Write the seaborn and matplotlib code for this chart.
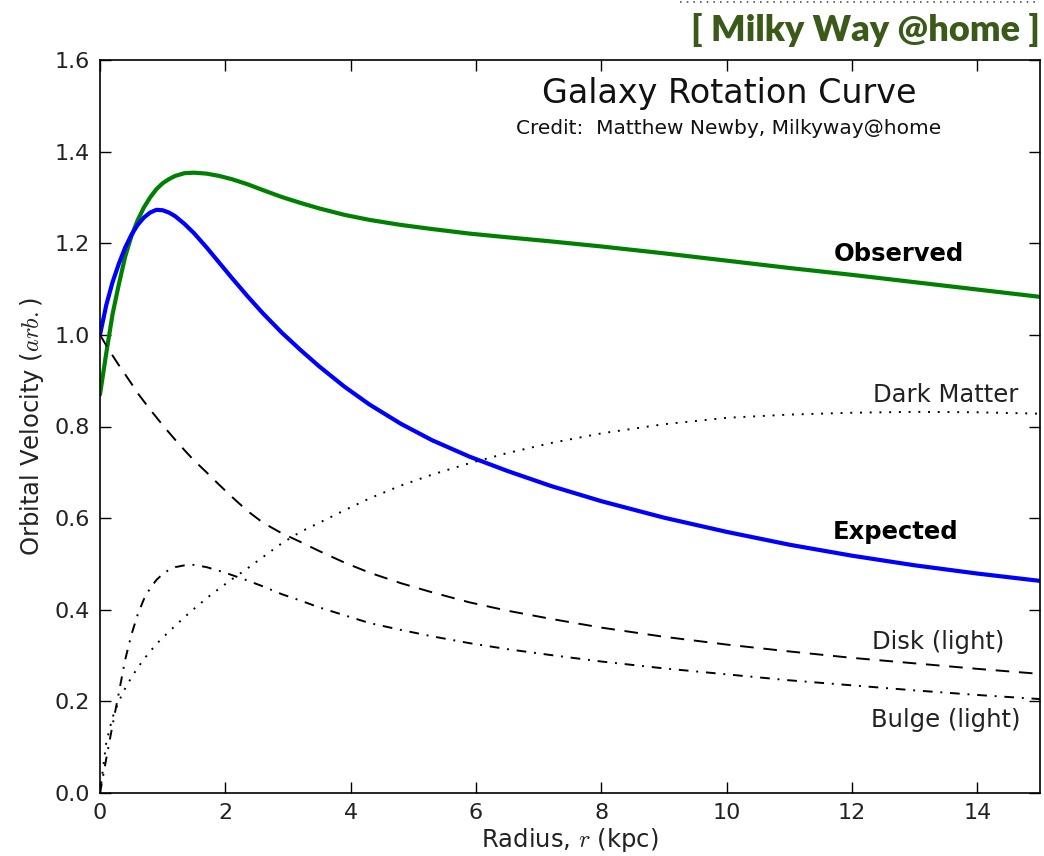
import numpy as np
import pandas as pd
import seaborn as sns
import matplotlib.pyplot as plt
from matplotlib.lines import Line2D

# values (radius in kpc, velocity in arb. units)
radius = [0, 0.1, 0.2, 0.3, 0.4, 0.5, 0.6, 0.7, 0.8, 0.9, 1.0, 1.1, 1.2, 1.35, 1.5,
          1.7, 1.9, 2.1, 2.35, 2.6, 2.9, 3.2, 3.5, 3.9, 4.3, 4.8, 5.3, 5.9, 6.5,
          7.2, 8.0, 9.0, 10.0, 11.0, 12.0, 13.0, 14.0, 15.0]
observed = [0.87, 0.96, 1.045, 1.11, 1.17, 1.215, 1.25, 1.278, 1.30, 1.318, 1.331,
            1.340, 1.347, 1.353, 1.354, 1.352, 1.347, 1.340, 1.329, 1.316, 1.301,
            1.288, 1.276, 1.262, 1.251, 1.240, 1.231, 1.221, 1.213, 1.204, 1.193,
            1.178, 1.162, 1.146, 1.131, 1.115, 1.099, 1.083]
expected = [1.00, 1.065, 1.115, 1.155, 1.19, 1.218, 1.24, 1.256, 1.267, 1.273, 1.272,
            1.267, 1.259, 1.242, 1.222, 1.191, 1.158, 1.125, 1.085, 1.047, 1.005,
            0.967, 0.931, 0.887, 0.848, 0.806, 0.770, 0.734, 0.703, 0.670, 0.637,
            0.601, 0.570, 0.542, 0.518, 0.497, 0.479, 0.463]
dark_matter = [0.0, 0.11, 0.165, 0.20, 0.228, 0.252, 0.273, 0.292, 0.309, 0.325, 0.339,
               0.352, 0.365, 0.384, 0.402, 0.425, 0.446, 0.466, 0.49, 0.515, 0.545,
               0.57, 0.59, 0.617, 0.643, 0.671, 0.695, 0.72, 0.742, 0.764, 0.785,
               0.805, 0.819, 0.826, 0.830, 0.832, 0.831, 0.828]
disk = [1.0, 0.977, 0.955, 0.934, 0.914, 0.894, 0.873, 0.855, 0.837, 0.82, 0.803,
        0.787, 0.771, 0.748, 0.726, 0.70, 0.673, 0.647, 0.616, 0.59, 0.567, 0.548,
        0.528, 0.503, 0.481, 0.458, 0.438, 0.416, 0.398, 0.380, 0.361, 0.341, 0.324,
        0.309, 0.295, 0.283, 0.271, 0.260]
bulge = [0.0, 0.075, 0.148, 0.218, 0.29, 0.345, 0.389, 0.423, 0.447, 0.465, 0.478,
         0.487, 0.493, 0.497, 0.498, 0.493, 0.485, 0.476, 0.464, 0.451, 0.434, 0.42,
         0.405, 0.388, 0.371, 0.356, 0.342, 0.327, 0.314, 0.301, 0.287, 0.272, 0.259,
         0.246, 0.235, 0.224, 0.214, 0.205]

df = pd.DataFrame({'r': radius, 'Observed': observed, 'Expected': expected,
                   'Dark Matter': dark_matter, 'Disk': disk, 'Bulge': bulge})

sns.set_style('ticks')
plt.rcParams['font.family'] = ['DejaVu Sans']
plt.rcParams['mathtext.fontset'] = 'cm'
plt.rcParams['lines.solid_joinstyle'] = 'round'

fig = plt.figure(figsize=(10.44, 8.56), dpi=100)
ax = fig.add_axes([100/1044, 63/856, 940/1044, 733/856])

sns.lineplot(data=df, x='r', y='Observed', ax=ax, color='green', lw=3)
sns.lineplot(data=df, x='r', y='Expected', ax=ax, color='blue', lw=3)
sns.lineplot(data=df, x='r', y='Dark Matter', ax=ax, color='black', lw=1.4,
             linestyle=(0, (1, 4)))
sns.lineplot(data=df, x='r', y='Disk', ax=ax, color='black', lw=1.4,
             linestyle=(0, (7, 5)))
sns.lineplot(data=df, x='r', y='Bulge', ax=ax, color='black', lw=1.4,
             linestyle=(0, (5, 4, 1, 4)))

ax.set_xlim(0, 15)
ax.set_ylim(0, 1.6)
ax.set_xticks(np.arange(0, 15, 2))
ax.set_yticks(np.arange(0, 1.61, 0.2))
ax.set_yticklabels([f'{v:.1f}' for v in np.arange(0, 1.61, 0.2)])
ax.tick_params(direction='in', length=8, width=1, top=True, right=True,
               labelsize=16, colors='black', pad=7)
ax.tick_params(axis='both', labelcolor='#222222')
for s in ax.spines.values():
    s.set_linewidth(1.2)
    s.set_color('black')

ax.set_xlabel('Radius, $r$ (kpc)', fontsize=17.5, labelpad=2, color='#222222')
ax.set_ylabel('Orbital Velocity ($arb.$)', fontsize=17.5, labelpad=6, color='#222222')

ax.text(0.669, 0.954, 'Galaxy Rotation Curve', transform=ax.transAxes,
        ha='center', va='center', fontsize=24, color='#111111')
ax.text(0.669, 0.907, 'Credit:  Matthew Newby, Milkyway@home', transform=ax.transAxes,
        ha='center', va='center', fontsize=14.5, color='#111111')

ax.text(12.75, 1.177, 'Observed', ha='center', va='center', fontsize=17.5,
        fontweight='bold', color='black')
ax.text(12.7, 0.57, 'Expected', ha='center', va='center', fontsize=17.5,
        fontweight='bold', color='black')
ax.text(13.5, 0.869, 'Dark Matter', ha='center', va='center', fontsize=17.5,
        color='#222222')
ax.text(13.37, 0.33, 'Disk (light)', ha='center', va='center', fontsize=17.5,
        color='#222222')
ax.text(13.5, 0.16, 'Bulge (light)', ha='center', va='center', fontsize=17.5,
        color='#222222')

fig.text(1040/1044, 1 - 30/856, '[ Milky Way @home ]', ha='right', va='center',
         fontsize=26, fontweight='heavy', color='#3b5a1a', family=['Lato', 'DejaVu Sans'])
fig.add_artist(Line2D([680/1044, 1040/1044], [1 - 2/856, 1 - 2/856], color='#555555',
                      lw=1.2, linestyle=(0, (1, 3)), transform=fig.transFigure))

fig.savefig('out.png', dpi=100)
